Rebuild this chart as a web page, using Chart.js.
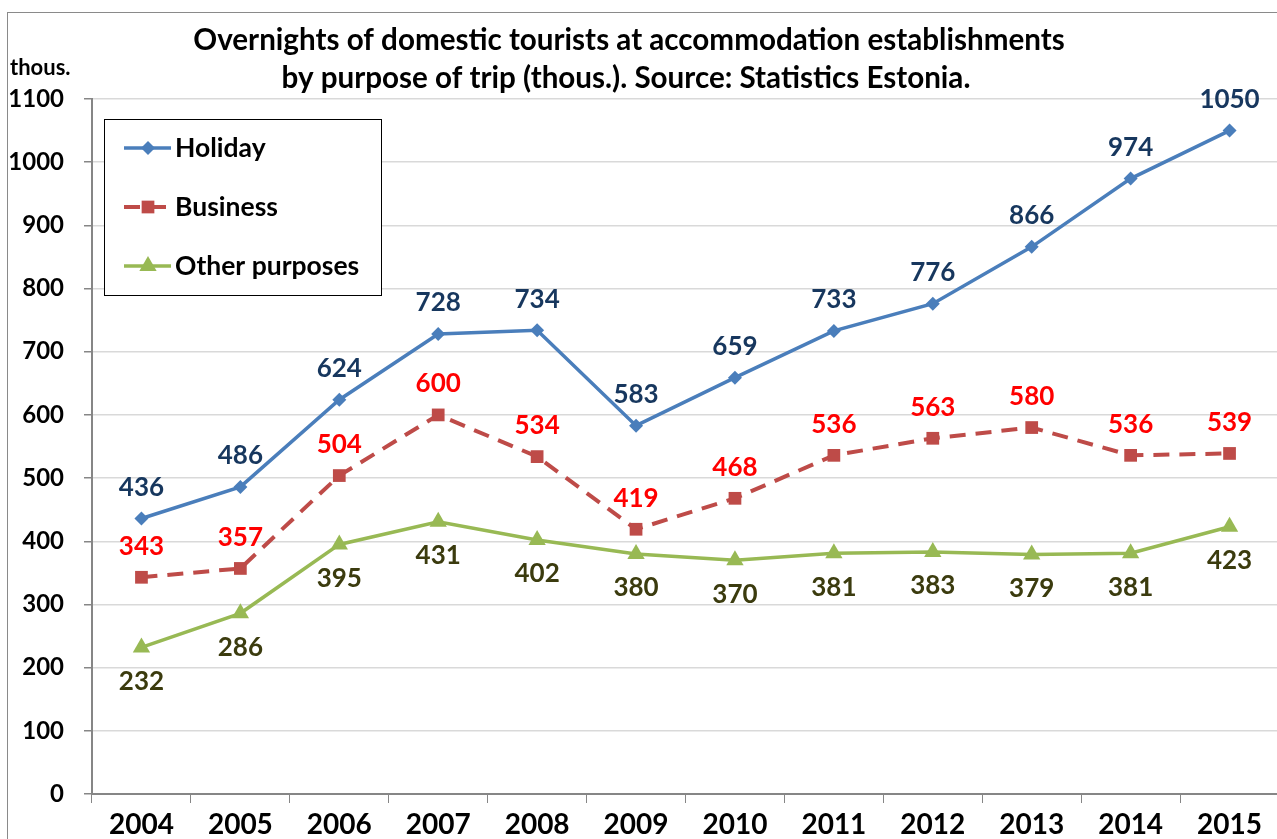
<!DOCTYPE html>
<html lang="en">

<head>
    <meta charset="UTF-8">
    <title>Overnights of domestic tourists</title>
    <style>
        html, body {
            margin: 0;
            padding: 0;
            background: #fff;
            overflow: hidden;
        }

        .frame {
            position: absolute;
            left: 7px;
            top: 12px;
            width: 1400px;
            height: 1000px;
            border: 1px solid #8a8a8a;
        }

        #chart {
            position: absolute;
            left: 0;
            top: 0;
        }
    </style>
</head>

<body>
    <div class="frame"></div>
    <canvas id="chart" width="1289" height="839"></canvas>

    <script src="https://cdn.jsdelivr.net/npm/chart.js"></script>
    <script>
        // data
        const years = ['2004', '2005', '2006', '2007', '2008', '2009', '2010', '2011', '2012', '2013', '2014', '2015'];
        const holiday = [436, 486, 624, 728, 734, 583, 659, 733, 776, 866, 974, 1050];
        const business = [343, 357, 504, 600, 534, 419, 468, 536, 563, 580, 536, 539];
        const otherPurposes = [232, 286, 395, 431, 402, 380, 370, 381, 383, 379, 381, 423];

        const titleLines = ['Overnights of domestic tourists at accommodation establishments',
            'by purpose of trip (thous.). Source: Statistics Estonia.'];
        const unitLabel = 'thous.';

        const FONT = 'Lato, "Open Sans", sans-serif';

        // title + unit label
        const titlePlugin = {
            id: 'titleText',
            afterDraw(chart) {
                const ctx = chart.ctx;
                ctx.save();
                ctx.fillStyle = '#000';
                ctx.font = 'bold 29.6px ' + FONT;
                ctx.textAlign = 'center';
                ctx.textBaseline = 'middle';
                ctx.fillText(titleLines[0], 629, 40);
                ctx.fillText(titleLines[1], 626, 78);
                ctx.font = 'bold 22px ' + FONT;
                ctx.textAlign = 'left';
                ctx.fillText(unitLabel, 10, 68);
                ctx.restore();
            }
        };

        // value labels next to each point
        const valueLabels = {
            id: 'valueLabels',
            afterDatasetsDraw(chart) {
                const ctx = chart.ctx;
                ctx.save();
                ctx.font = 'bold 26px ' + FONT;
                ctx.textAlign = 'center';
                ctx.textBaseline = 'middle';
                chart.data.datasets.forEach((ds, i) => {
                    const meta = chart.getDatasetMeta(i);
                    ctx.fillStyle = ds.labelColor;
                    meta.data.forEach((pt, j) => {
                        ctx.fillText(ds.data[j], pt.x, pt.y + ds.labelOffset);
                    });
                });
                ctx.restore();
            }
        };

        // boxed legend inside the plot
        const boxLegend = {
            id: 'boxLegend',
            afterDraw(chart) {
                const ctx = chart.ctx;
                ctx.save();
                ctx.fillStyle = '#fff';
                ctx.fillRect(104, 119, 277, 176);
                ctx.strokeStyle = '#000';
                ctx.lineWidth = 1;
                ctx.strokeRect(104.5, 119.5, 277, 176);
                const rows = [148, 207, 266];
                chart.data.datasets.forEach((ds, i) => {
                    const y = rows[i];
                    ctx.strokeStyle = ds.borderColor;
                    ctx.lineWidth = ds.borderWidth;
                    ctx.setLineDash(ds.borderDash || []);
                    ctx.beginPath();
                    ctx.moveTo(124, y);
                    ctx.lineTo(171, y);
                    ctx.stroke();
                    ctx.setLineDash([]);
                    ctx.fillStyle = ds.pointBackgroundColor;
                    Chart.helpers.drawPoint(ctx, {
                        pointStyle: ds.pointStyle,
                        radius: ds.pointRadius,
                        rotation: 0,
                        borderWidth: 0
                    }, 148, y);
                    ctx.fillStyle = '#000';
                    ctx.font = 'bold 26.5px ' + FONT;
                    ctx.textAlign = 'left';
                    ctx.textBaseline = 'middle';
                    ctx.fillText(ds.label, 175, y);
                });
                ctx.restore();
            }
        };

        const ctx = document.getElementById('chart').getContext('2d');
        new Chart(ctx, {
            type: 'line',
            data: {
                labels: years,
                datasets: [{
                    label: 'Holiday',
                    data: holiday,
                    borderColor: '#4A7EBB',
                    backgroundColor: '#4A7EBB',
                    pointBackgroundColor: '#4A7EBB',
                    pointBorderWidth: 0,
                    borderWidth: 3.5,
                    pointStyle: 'rectRot',
                    pointRadius: 7,
                    labelColor: '#17375E',
                    labelOffset: -31
                }, {
                    label: 'Business',
                    data: business,
                    borderColor: '#BE4B48',
                    backgroundColor: '#BE4B48',
                    pointBackgroundColor: '#BE4B48',
                    pointBorderWidth: 0,
                    borderWidth: 4,
                    borderDash: [16, 10],
                    pointStyle: 'rect',
                    pointRadius: 9,
                    labelColor: '#FF0000',
                    labelOffset: -31
                }, {
                    label: 'Other purposes',
                    data: otherPurposes,
                    borderColor: '#98B954',
                    backgroundColor: '#98B954',
                    pointBackgroundColor: '#98B954',
                    pointBorderWidth: 0,
                    borderWidth: 3.5,
                    pointStyle: 'triangle',
                    pointRadius: 10,
                    labelColor: '#3B3B0E',
                    labelOffset: 34
                }]
            },
            options: {
                responsive: false,
                devicePixelRatio: 1,
                animation: false,
                layout: {
                    padding: { top: 99, left: 0, right: 0, bottom: 0 }
                },
                plugins: {
                    legend: { display: false },
                    title: { display: false },
                    tooltip: { enabled: false }
                },
                scales: {
                    x: {
                        offset: true,
                        grid: {
                            offset: true,
                            drawOnChartArea: false,
                            tickLength: 9,
                            tickColor: '#868686'
                        },
                        border: { color: '#868686', width: 2 },
                        ticks: {
                            color: '#000',
                            font: { family: FONT, size: 28, weight: 'bold' },
                            padding: 5,
                            maxRotation: 0
                        },
                        afterFit(scale) { scale.height = 45; }
                    },
                    y: {
                        min: 0,
                        max: 1100,
                        ticks: {
                            stepSize: 100,
                            color: '#000',
                            font: { family: FONT, size: 24, weight: 'bold' },
                            padding: 20,
                            callback: (v) => String(v)
                        },
                        grid: {
                            color: '#D9D9D9',
                            lineWidth: 1.5,
                            tickLength: 8,
                            tickColor: '#868686'
                        },
                        border: { color: '#868686', width: 2 },
                        afterFit(scale) { scale.width = 92; }
                    }
                }
            },
            plugins: [titlePlugin, valueLabels, boxLegend]
        });
    </script>
</body>

</html>
